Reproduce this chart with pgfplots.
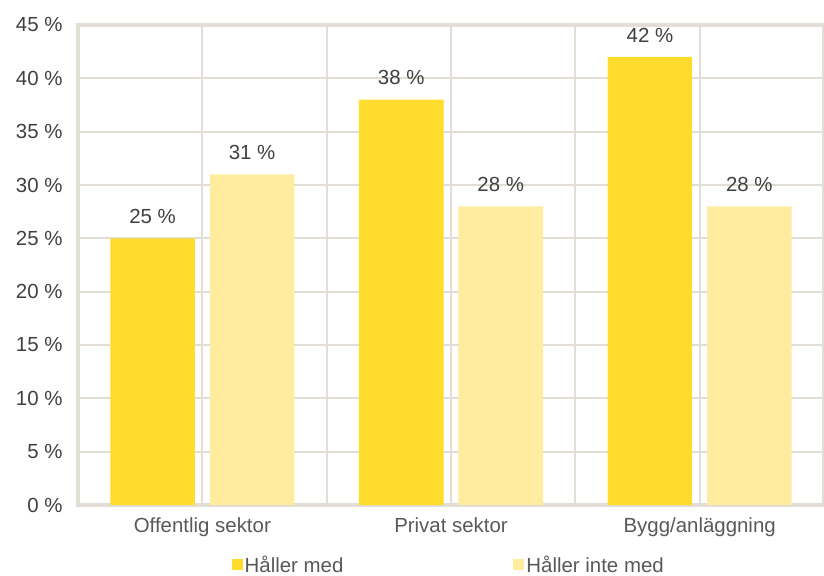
\documentclass[border=0pt]{standalone}
\usepackage{pgfplots}
\pgfplotsset{compat=1.18}
\usepackage{fontspec}
\setmainfont{Liberation Sans}
\definecolor{gridc}{HTML}{E2DDD5}
\definecolor{yel}{HTML}{FFDC2D}
\definecolor{lyel}{HTML}{FFEC9F}
\definecolor{txt}{HTML}{404040}
\definecolor{txt2}{HTML}{595959}
\begin{document}
\begin{tikzpicture}
\useasboundingbox (-78bp,-71bp) rectangle (746bp,505bp);
\begin{axis}[
  scale only axis,
  width=746bp, height=480bp,
  xmin=-0.5, xmax=2.5, ymin=0, ymax=45,
  ybar, bar width=0.34,
  /pgf/number format/assume math mode=true,
  xtick={0,1,2},
  xticklabels={Offentlig sektor,Privat sektor,Bygg/anläggning},
  minor xtick={0.5,1.5},
  ytick={0,5,...,45},
  yticklabels={0 \%,5 \%,10 \%,15 \%,20 \%,25 \%,30 \%,35 \%,40 \%,45 \%},
  xmajorgrids, xminorgrids, ymajorgrids,
  grid style={gridc, line width=2.2bp},
  minor grid style={gridc, line width=2.2bp},
  axis line style={gridc, line width=3.5bp},
  major tick length=0, minor tick length=0,
  tick label style={font=\fontsize{20.5}{24}\selectfont, text=txt},
  yticklabel style={xshift=-12bp},
  xticklabel style={yshift=-9bp, text=txt2},
  nodes near coords={\pgfmathprintnumber\pgfplotspointmeta~\%},
  every node near coord/.append style={font=\fontsize{20.5}{24}\selectfont, text=txt, anchor=south, yshift=11bp},
  legend style={at={(0.497,-0.124)}, anchor=center, draw=none, fill=none,
    font=\fontsize{20.5}{24}\selectfont, text=txt2, inner sep=1bp,
    /tikz/every even column/.append style={column sep=168bp}},
  legend columns=2,
  legend image code/.code={\fill[#1] (0bp,-5.5bp) rectangle (11bp,5.5bp);},
  legend cell align=left,
]
\addplot[fill=yel, draw=none, bar shift=-0.2] coordinates {(0,25) (1,38) (2,42)};
\addplot[fill=lyel, draw=none, bar shift=0.2] coordinates {(0,31) (1,28) (2,28)};
\legend{Håller med, Håller inte med}
\end{axis}
\end{tikzpicture}
\end{document}
